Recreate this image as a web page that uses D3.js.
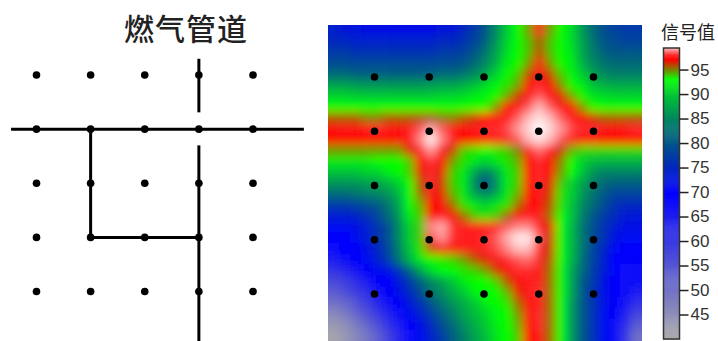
<!DOCTYPE html>
<html>
<head>
<meta charset="utf-8">
<script src="https://cdn.jsdelivr.net/npm/d3@7.9.0/dist/d3.min.js"></script>
<style>
  html, body { margin: 0; padding: 0; background: #fff; }
  svg { display: block; }
</style>
</head>
<body>
<svg id="chart" width="718" height="341"></svg>
<script>
// ---------- Data ----------

const title = "燃气管道";
const legendTitle = "信号值";
const legendTicks = [95, 90, 85, 80, 75, 70, 65, 60, 55, 50, 45];

// sensor positions, in grid units
const gridIdx = [0, 1, 2, 3, 4];

// pipe runs, in grid units (the pipes run past the outer sensors)
const pipes = [
  [[-0.47, 1], [4.94, 1]],
  [[3, -0.3], [3, 0.69]],
  [[3, 1.3], [3, 4.95]],
  [[1, 1], [1, 3], [3, 3]],
];

// colour scale stops
const colorValues = [40, 70, 75, 80, 85, 90, 93, 97, 98, 100];
const colorStops = ["#aaaaaa", "#0000ff", "#0028be", "#005587", "#00875f", "#00c832", "#00ff00", "#ff0000", "#ff3030", "#ffffff"];

// signal value per cell, top row first
const signal = [
  [74,73,73,72,72,72,72,72,72,72,73,73,75,77,80,85,90,93,94.5,97.6,94.5,93,91,86,82,79,78,77,77],
  [75,75,74,74,74,74,74,74,74,74,75,75,76,78,81,86,90.5,93,94,95.6,94,93,91,87,83,80,79,78,78],
  [77,77,76,76,76,76,76,76,76,76,77,77,78,80,83,87,91,93,94,96,94,93,91.5,87,84,81,80,80,80],
  [79,79,78.5,78.5,78.5,78.5,78.5,78.5,78.5,78.5,79,79,80,82,85,88,92,93,94.6,97.3,94.6,93,92,88,85,83,82,82,82],
  [82,82,81,81,81,81,81,81,81,81,82,82,83,85,87,90.5,93,93.8,96,97.6,96,93.8,92.5,90,87,85,84,84,84],
  [87,87,86.5,86,86,86,86,86,86,86.5,87,87,88,89,91,92.5,93.4,94.4,97,97.9,97,94.8,93,92,89,88,87.5,87.5,87.5],
  [90.5,90.5,90,90,90,90,90,90,90,90,90.5,90.5,91,92,92.5,93,94.4,96.2,97.4,98.4,97.4,96.6,94.4,93,91.5,91,90.5,90.5,90.5],
  [93,93,93,93,93,93,93,93,93,93,93,93,93,93,93,94.6,97,97.4,98.4,99.3,98.4,97.4,97,94.6,93,93,93,93,93],
  [95.6,95.6,95.6,95,95,95.6,95.6,95.6,95.6,95.6,95,95,95.6,96.2,97,97.3,97.6,98.4,99.3,99.7,99.3,98.4,97.6,97,96.2,95.6,95.6,95.6,95.6],
  [97.3,97.6,97.3,97.6,97.9,97.6,97.3,97.6,98.4,99.2,98.4,97.6,97.3,97.6,97.9,97.9,98.2,99,99.6,100,99.6,99,98.2,97.9,97.9,97.6,97.3,97.6,97.9],
  [97,97,97,97,97,97,97.3,97.6,98.8,99.9,98.8,97.6,97,97,97.3,97.6,97.9,98.4,99.3,99.7,99.3,98.4,97.6,97.3,97.3,97,97,97,97],
  [94.6,94.6,94.6,94.6,94.6,94.6,94.6,96.6,97.9,99,97.6,96.2,93.8,93.4,93,93.4,93.8,95,97.3,98.6,97.6,96.2,94.2,93.6,93.6,93.6,93.6,93.6,93.6],
  [92,92,92,92,93,93,93,93.8,97,98,97,94.6,93.4,92,90.5,92,93.4,94.2,97,97.9,97,95,93,90.5,89,88.5,88.5,88.5,88.5],
  [89.5,89.5,89.5,90.5,90.5,92,93,93.8,96.6,97.9,96.6,93.8,92,87,84,87,92,93.8,97,97.9,97,94.6,93,89.5,86,84.5,84.5,84.5,84.5],
  [86,86,86,87,87,88.5,90.5,93,95.8,97.9,96.2,93.8,92,85,79,85,92,93.8,97,97.9,96.6,93.8,90.5,87,84,82,81,81,81],
  [82,82,83,84,85,86,88.5,93,95.4,97.6,96.6,94.2,92,87,85,87,92,94.2,97,97.6,96.2,93.4,90.5,86,83,80,78,78,78],
  [77,77,78,79,80,83,87,93,94.2,97,97.3,95.4,93.4,92,90.5,92,93.4,95.4,97.3,97.3,95.8,93.4,89.5,85,82,79,76,75,75],
  [73.5,73.5,74.5,76,78,82,86,92,93.8,97,97.6,97,95.4,93.8,93.4,93.8,95.4,97,97.6,97.6,95.4,93,89.5,84,80,77,75,73,73],
  [71,71,72,73.5,76,79,85,90.5,93.8,98.8,99.2,98,97.6,97.6,97.6,97.8,98.4,98.8,98.8,97.9,96.6,93,88.5,83,79,76,73.5,72,72],
  [70,70,71,73.5,76,79,85,90.5,93.8,98.2,99,98,97.6,97.6,97.9,98.4,99.2,99.8,99.8,98.4,96.2,93,88.5,83,79,76,72,71,71],
  [68,69,70,72,74.5,78,84,89.5,93.4,96.2,97,97.3,97.6,97.6,97.9,98.2,98.8,99.4,99.4,98,96.2,93,88.5,83,78,74.5,71,70,70],
  [65,67,69,71,73.5,77,83,88.5,92,93,93.4,93.8,94.6,95.8,96.6,97.6,97.9,98.4,98.6,97.9,95.8,93,88.5,82,78,73.5,70,69,69],
  [61,63,66,69,71,72,76,81,87,91,93,93,93.4,93.8,94.6,96.2,97.3,97.9,97.9,97.6,95.4,93,87,82,77,73.5,70,68,68],
  [57,59,62,65,69,70,73,77,81,85,87,90,92,93,93,93.8,95.8,97.3,97.6,97.6,95.4,93,87,80,77,72,70,67,67],
  [54,56,59,62,66,69,72,75,79,83,85.5,88,90,92.5,93,93,94.2,96.6,97.6,98,95.4,93,87,80,76,72,70,67,65],
  [50,52,55,59,63,67,70,73,76,80,83,86,88,90,92,93,93.4,95.4,97.3,97.6,95.4,93,86,80,76,72,69,66,62],
  [46,48,52,56,60,64,68,71,74,77,81,84,87,89,90.5,92.5,93,94.6,97.3,97.9,95.4,93,86,80,76,71,69,64,58],
  [43,45,48,52,56,61,65,70,72,75,79,82,85.5,88,90,92,93,94.2,97,97.9,95.4,93,86,80,76,71,68,62,54],
  [41,43,46,49,53,58,63,68,71,74,77,81,84,87,89,91.5,93,93.8,97,97.6,95.4,93,86,80,76,71,68,60,50],
];

// ---------- Setup ----------

const svg = d3.select("#chart");
const cjk = "'Noto Sans CJK SC', 'Noto Sans', sans-serif";

const color = d3.scaleLinear().domain(colorValues).range(colorStops);

// Left panel: pipes and sensors
const pipeX = d3.scaleLinear().domain([0, 4]).range([36.5, 253]);
const pipeY = d3.scaleLinear().domain([0, 4]).range([75, 291.5]);

// Right panel: heat map, sensors on top
const heatLeft = 328, heatRight = 642, heatTop = 25, heatBottom = 341;
const heatX = d3.scaleLinear().domain([0, 4]).range([374.5, 593.5]);
const heatY = d3.scaleLinear().domain([0, 4]).range([77, 294]);

const colBand = d3.scaleBand().domain(d3.range(signal[0].length)).range([heatLeft, heatRight]);
const rowBand = d3.scaleBand().domain(d3.range(signal.length)).range([heatTop, heatBottom]);

// ---------- Left panel ----------

svg.append("text")
  .attr("x", 186)
  .attr("y", 40)
  .attr("text-anchor", "middle")
  .attr("font-family", cjk)
  .attr("font-size", 30)
  .attr("font-weight", 500)
  .attr("letter-spacing", 1)
  .attr("fill", "#222")
  .text(title);

const pipeLine = d3.line().x((d) => pipeX(d[0])).y((d) => pipeY(d[1]));

svg.append("g")
  .selectAll("path")
  .data(pipes)
  .join("path")
  .attr("d", pipeLine)
  .attr("fill", "none")
  .attr("stroke", "#000")
  .attr("stroke-width", 3);

const sensors = d3.cross(gridIdx, gridIdx);

svg.append("g")
  .selectAll("circle")
  .data(sensors)
  .join("circle")
  .attr("cx", (d) => pipeX(d[0]))
  .attr("cy", (d) => pipeY(d[1]))
  .attr("r", 3.8)
  .attr("fill", "#000");

// ---------- Heat map ----------

const defs = svg.append("defs");

defs.append("clipPath")
  .attr("id", "heat-clip")
  .append("rect")
  .attr("x", heatLeft)
  .attr("y", heatTop)
  .attr("width", heatRight - heatLeft)
  .attr("height", heatBottom - heatTop);

const blur = defs.append("filter")
  .attr("id", "heat-blur")
  .attr("filterUnits", "userSpaceOnUse")
  .attr("x", heatLeft - 40)
  .attr("y", heatTop - 40)
  .attr("width", heatRight - heatLeft + 80)
  .attr("height", heatBottom - heatTop + 80);
blur.append("feGaussianBlur").attr("stdDeviation", 5);

const cells = signal.flatMap((row, r) => row.map((v, c) => ({ r, c, v })));
const lastRow = signal.length - 1;
const lastCol = signal[0].length - 1;
const bleed = 30; // edge cells run past the clip so the blur does not fade out

svg.append("g")
  .attr("clip-path", "url(#heat-clip)")
  .append("g")
  .attr("filter", "url(#heat-blur)")
  .selectAll("rect")
  .data(cells)
  .join("rect")
  .attr("x", (d) => colBand(d.c) - (d.c === 0 ? bleed : 0))
  .attr("y", (d) => rowBand(d.r) - (d.r === 0 ? bleed : 0))
  .attr("width", (d) => colBand.bandwidth() + 0.5 + (d.c === 0 || d.c === lastCol ? bleed : 0))
  .attr("height", (d) => rowBand.bandwidth() + 0.5 + (d.r === 0 || d.r === lastRow ? bleed : 0))
  .attr("fill", (d) => color(d.v));

svg.append("g")
  .selectAll("circle")
  .data(sensors)
  .join("circle")
  .attr("cx", (d) => heatX(d[0]))
  .attr("cy", (d) => heatY(d[1]))
  .attr("r", 3.8)
  .attr("fill", "#000");

// ---------- Legend ----------

const barLeft = 663.5, barWidth = 16;
const legendY = d3.scaleLinear().domain([40, 99.4]).range([339, 48]);

svg.append("g")
  .selectAll("rect")
  .data(d3.range(40, 99.4, 0.2))
  .join("rect")
  .attr("x", barLeft)
  .attr("y", (d) => legendY(d + 0.2))
  .attr("width", barWidth)
  .attr("height", (d) => legendY(d) - legendY(d + 0.2) + 0.5)
  .attr("fill", (d) => color(d));

svg.append("rect")
  .attr("x", barLeft)
  .attr("y", 48)
  .attr("width", barWidth)
  .attr("height", 291)
  .attr("fill", "none")
  .attr("stroke", "#333")
  .attr("stroke-width", 1.5);

const legendAxis = d3.axisRight(legendY)
  .tickValues(legendTicks)
  .tickSize(9)
  .tickPadding(2);

const axisG = svg.append("g")
  .attr("transform", `translate(${barLeft + barWidth},0)`)
  .call(legendAxis);

axisG.select(".domain").remove();
axisG.selectAll("line").attr("stroke", "#222").attr("stroke-width", 1.5);
axisG.selectAll("text")
  .attr("font-family", "'Liberation Sans', Arial, sans-serif")
  .attr("font-size", 17)
  .attr("fill", "#333");

svg.append("text")
  .attr("x", 688)
  .attr("y", 39)
  .attr("text-anchor", "middle")
  .attr("font-family", cjk)
  .attr("font-size", 18)
  .attr("fill", "#222")
  .text(legendTitle);
</script>
</body>
</html>
